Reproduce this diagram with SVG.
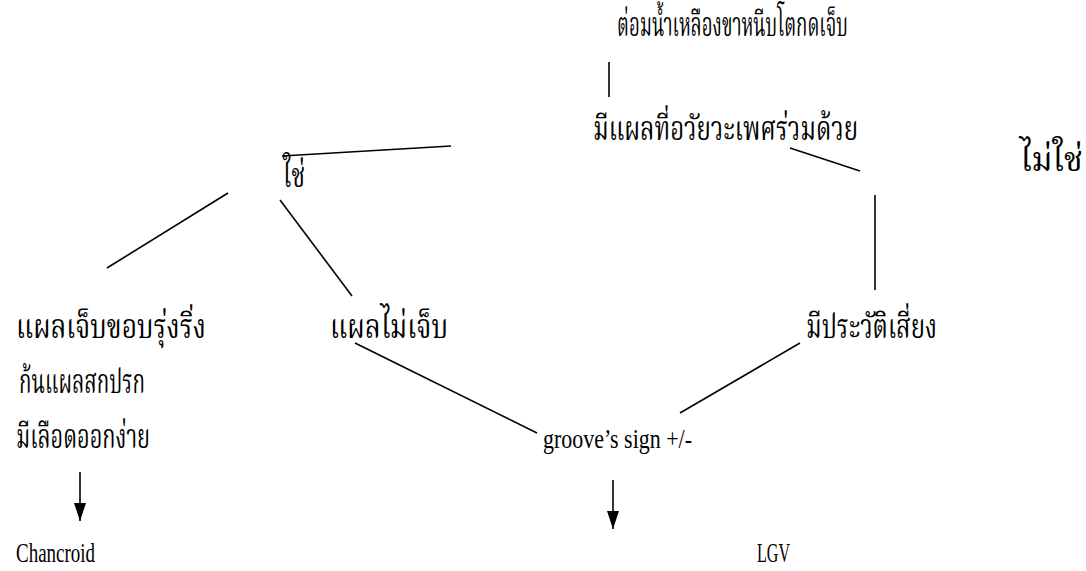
<svg xmlns="http://www.w3.org/2000/svg" width="1086" height="571" viewBox="0 0 1086 571">
<defs>
<marker id="ah" markerWidth="18" markerHeight="12" refX="18" refY="6" orient="auto" markerUnits="userSpaceOnUse" viewBox="0 0 18 12">
<path d="M0,0 L18,6 L0,12 Z" fill="#000"/>
</marker>
</defs>
<style>
.t{font-family:"Noto Serif Thai","Noto Sans Thai","Liberation Serif","Noto Sans",serif;font-size:33px;fill:#000}
.l{font-family:"Liberation Serif",serif;font-size:28px;fill:#000}
.c{stroke:#000;stroke-width:1.6;fill:none}
</style>
<rect width="1086" height="571" fill="#fff"/>
<g id="connectors">
<line class="c" x1="609" y1="62" x2="609" y2="97"/>
<line class="c" x1="451" y1="146" x2="282" y2="156"/>
<line class="c" x1="790" y1="148" x2="860" y2="171"/>
<line class="c" x1="875" y1="195" x2="875" y2="290"/>
<line class="c" x1="228" y1="193" x2="107" y2="268"/>
<line class="c" x1="280" y1="200" x2="352" y2="296"/>
<line class="c" x1="355" y1="343" x2="537" y2="433"/>
<line class="c" x1="800" y1="343" x2="680" y2="413"/>
<line class="c" x1="80" y1="472" x2="80" y2="521" marker-end="url(#ah)"/>
<line class="c" x1="613" y1="480" x2="613" y2="529" marker-end="url(#ah)"/>
</g>
<g id="n1"><text class="t" x="617" y="36" textLength="231" lengthAdjust="spacingAndGlyphs">ต่อมน้ำเหลืองขาหนีบโตกดเจ็บ</text></g>
<g id="n2"><text class="t" x="593" y="140" textLength="265" lengthAdjust="spacingAndGlyphs">มีแผลที่อวัยวะเพศร่วมด้วย</text></g>
<g id="n3"><text class="t" x="283" y="187" textLength="22" lengthAdjust="spacingAndGlyphs">ใช่</text></g>
<g id="n4"><text class="t" x="1020" y="171" textLength="63" lengthAdjust="spacingAndGlyphs">ไม่ใช่</text></g>
<g id="n5">
<text class="t" x="16" y="338" textLength="190" lengthAdjust="spacingAndGlyphs">แผลเจ็บขอบรุ่งริ่ง</text>
<text class="t" x="19" y="393" textLength="126" lengthAdjust="spacingAndGlyphs">ก้นแผลสกปรก</text>
<text class="t" x="16" y="448" textLength="134" lengthAdjust="spacingAndGlyphs">มีเลือดออกง่าย</text>
</g>
<g id="n6"><text class="t" x="330" y="338" textLength="118" lengthAdjust="spacingAndGlyphs">แผลไม่เจ็บ</text></g>
<g id="n7"><text class="t" x="806" y="338" textLength="131" lengthAdjust="spacingAndGlyphs">มีประวัติเสี่ยง</text></g>
<g id="n8"><text class="l" x="543" y="448" textLength="149" lengthAdjust="spacingAndGlyphs">groove’s sign +/-</text></g>
<g id="n9"><text class="l" x="16" y="562" textLength="79" lengthAdjust="spacingAndGlyphs">Chancroid</text></g>
<g id="n10"><text class="l" x="757" y="562" textLength="33" lengthAdjust="spacingAndGlyphs">LGV</text></g>
</svg>
